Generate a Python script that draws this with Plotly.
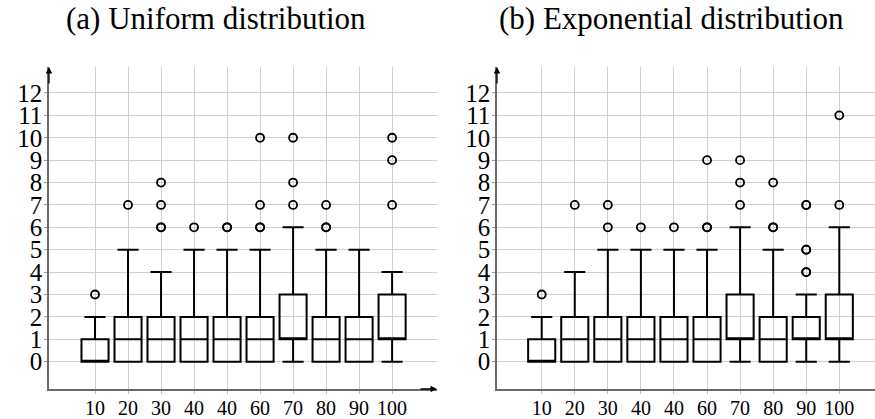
import plotly.graph_objects as go

labels = ["10", "20", "30", "40", "40", "60", "70", "80", "90", "100"]
positions = list(range(1, 11))
y_ticks = list(range(0, 13))

# (a) Uniform distribution
uni_q1 = [0, 0, 0, 0, 0, 0, 1, 0, 0, 1]
uni_med = [0, 1, 1, 1, 1, 1, 1, 1, 1, 1]
uni_q3 = [1, 2, 2, 2, 2, 2, 3, 2, 2, 3]
uni_lo = [0, 0, 0, 0, 0, 0, 0, 0, 0, 0]
uni_hi = [2, 5, 4, 5, 5, 5, 6, 5, 5, 4]
uni_out = [[3], [7], [6, 6, 7, 8], [6], [6, 6], [6, 6, 7, 10], [7, 8, 10], [6, 6, 7], [], [7, 9, 10]]

# (b) Exponential distribution
exp_q1 = [0, 0, 0, 0, 0, 0, 1, 0, 1, 1]
exp_med = [0, 1, 1, 1, 1, 1, 1, 1, 1, 1]
exp_q3 = [1, 2, 2, 2, 2, 2, 3, 2, 2, 3]
exp_lo = [0, 0, 0, 0, 0, 0, 0, 0, 0, 0]
exp_hi = [2, 4, 5, 5, 5, 5, 6, 5, 3, 6]
exp_out = [[3], [7], [6, 7], [6], [6], [6, 6, 9], [7, 8, 9], [6, 6, 8], [4, 4, 5, 5, 7, 7], [7, 11]]

W, H = 875, 419
FONT = "Liberation Serif"

fig = go.Figure()


def add_panel(q1, med, q3, lo, hi, outs, xa, ya):
    fig.add_trace(go.Box(
        x=positions, q1=q1, median=med, q3=q3, lowerfence=lo, upperfence=hi,
        width=0.82, whiskerwidth=0.78, boxpoints=False,
        line=dict(color="black", width=2), fillcolor="rgba(0,0,0,0)",
        xaxis=xa, yaxis=ya, showlegend=False, hoverinfo="skip",
    ))
    ox, oy = [], []
    for p, vals in zip(positions, outs):
        for v in vals:
            ox.append(p)
            oy.append(v)
    fig.add_trace(go.Scatter(
        x=ox, y=oy, mode="markers", xaxis=xa, yaxis=ya, showlegend=False,
        marker=dict(symbol="circle-open", size=8, color="black", line=dict(width=1.8)),
        hoverinfo="skip",
    ))


add_panel(uni_q1, uni_med, uni_q3, uni_lo, uni_hi, uni_out, "x", "y")
add_panel(exp_q1, exp_med, exp_q3, exp_lo, exp_hi, exp_out, "x2", "y2")

top_px, bot_px = 67, 389
ydom = [1 - bot_px / H, 1 - top_px / H]
yrange = [-1.22, 13.16]


def xaxis_spec(dom, rng, anchor):
    return dict(
        domain=dom, range=rng, anchor=anchor, automargin=False,
        tickmode="array", tickvals=positions, ticktext=labels,
        showgrid=True, gridcolor="#cfcfcf", gridwidth=1,
        zeroline=False, showline=True, linecolor="#6a6a6a", linewidth=1.5,
        ticks="outside", ticklen=3, tickcolor="#bbbbbb", tickwidth=1,
        tickfont=dict(family=FONT, size=20, color="black"), ticklabelstandoff=-3,
    )


def yaxis_spec(anchor):
    return dict(
        domain=ydom, range=yrange, anchor=anchor, automargin=False,
        tickmode="array", tickvals=y_ticks, ticktext=[str(v) for v in y_ticks],
        showgrid=True, gridcolor="#cfcfcf", gridwidth=1,
        zeroline=False, showline=True, linecolor="#6a6a6a", linewidth=1.5,
        ticks="outside", ticklen=3, tickcolor="#999999", tickwidth=1,
        tickfont=dict(family=FONT, size=25, color="black"), ticklabelstandoff=-3,
    )


fig.update_layout(
    width=W, height=H, margin=dict(l=0, r=0, t=0, b=0, autoexpand=False),
    paper_bgcolor="white", plot_bgcolor="white",
    font=dict(family=FONT, color="black", size=20),
    xaxis=xaxis_spec([49 / W, 437 / W], [-0.394, 11.36], "y"),
    yaxis=yaxis_spec("x"),
    xaxis2=xaxis_spec([497 / W, 1.0], [-0.352, 11.08], "y2"),
    yaxis2=yaxis_spec("x2"),
)

annotations = [
    dict(text="(a) Uniform distribution", x=216 / W, y=1 - 18 / H, xref="paper", yref="paper",
         showarrow=False, xanchor="center", yanchor="middle",
         font=dict(family=FONT, size=31, color="black")),
    dict(text="(b) Exponential distribution", x=671 / W, y=1 - 18 / H, xref="paper", yref="paper",
         showarrow=False, xanchor="center", yanchor="middle",
         font=dict(family=FONT, size=31, color="black")),
]
# axis arrows
for tipx, tipy, ax, ay in [(49, top_px, 0, 18), (497, top_px, 0, 18), (437, bot_px, -18, 0)]:
    annotations.append(dict(
        x=tipx / W, y=1 - tipy / H, xref="paper", yref="paper", text="", showarrow=True,
        ax=ax, ay=ay, arrowhead=2, arrowsize=1, arrowwidth=1.3, arrowcolor="black",
        standoff=0, startstandoff=0,
    ))
fig.update_layout(annotations=annotations)

fig.write_html(
    "out.html",
    config={"displayModeBar": False},
    post_script="document.body.style.margin='0';document.body.style.overflow='hidden';",
)
